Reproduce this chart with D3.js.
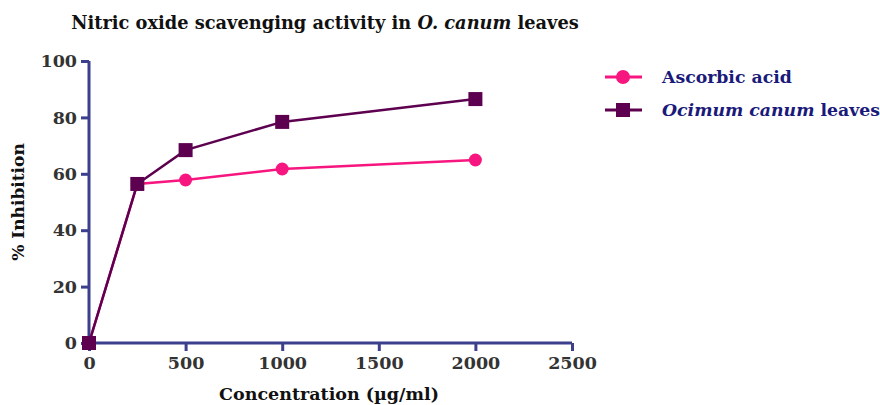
<!DOCTYPE html>
<html>
<head>
<meta charset="utf-8">
<script src="https://cdn.jsdelivr.net/npm/d3@7"></script>
<style>
  body { margin: 0; background: #fff; }
  text { font-family: "DejaVu Serif", serif; font-weight: bold; }
</style>
</head>
<body>
<svg id="chart" width="880" height="405"></svg>
<script>
const concentrations = [0, 250, 500, 1000, 2000];
const ascorbic = [0, 56.4, 57.8, 61.7, 64.9];
const ocimum = [0, 56.4, 68.4, 78.4, 86.5];
const xTicks = [0, 500, 1000, 1500, 2000, 2500];
const yTicks = [0, 20, 40, 60, 80, 100];

const axisColor = "#3b3f8c";
const pink = "#f7167f";
const purple = "#5e0050";

const svg = d3.select("#chart");
const margin = { top: 61, left: 89 };
const width = 483, height = 282;
const g = svg.append("g").attr("transform", `translate(${margin.left},${margin.top})`);

const x = d3.scaleLinear().domain([0, 2500]).range([0, width]);
const y = d3.scaleLinear().domain([0, 100]).range([height, 0]);

const xAxis = g.append("g")
  .attr("transform", `translate(0,${height})`)
  .call(d3.axisBottom(x).tickValues(xTicks).tickSize(8).tickPadding(6).tickFormat(d3.format("d")));
const yAxis = g.append("g")
  .call(d3.axisLeft(y).tickValues(yTicks).tickSize(8).tickPadding(4));

[xAxis, yAxis].forEach(a => {
  a.select(".domain").attr("stroke", axisColor).attr("stroke-width", 3);
  a.selectAll(".tick line").attr("stroke", axisColor).attr("stroke-width", 3);
  a.selectAll(".tick text").attr("fill", "#333").style("font-size", "17.5px")
    .style("font-family", "DejaVu Serif").style("font-weight", "bold");
});
xAxis.select(".domain").attr("d", `M0,0H${width}`);
yAxis.select(".domain").attr("d", `M0,${height}V0`);

const line = d3.line().x(d => x(d[0])).y(d => y(d[1]));

const series = [
  { name: "Ascorbic acid", values: ascorbic, color: pink, shape: "circle" },
  { name: "Ocimum canum leaves", values: ocimum, color: purple, shape: "square" }
];

series.forEach(s => {
  const pts = concentrations.map((c, i) => [c, s.values[i]]);
  g.append("path").datum(pts).attr("d", line)
    .attr("fill", "none").attr("stroke", s.color).attr("stroke-width", 2.5);
  if (s.shape === "circle") {
    g.selectAll(null).data(pts).join("circle")
      .attr("cx", d => x(d[0])).attr("cy", d => y(d[1])).attr("r", 6.5)
      .attr("fill", s.color);
  } else {
    g.selectAll(null).data(pts).join("rect")
      .attr("x", d => x(d[0]) - 7).attr("y", d => y(d[1]) - 7)
      .attr("width", 14).attr("height", 14).attr("fill", s.color);
  }
});

// Title
const title = svg.append("text").attr("x", 325).attr("y", 29)
  .attr("text-anchor", "middle").attr("fill", "#111").style("font-size", "17.8px");
title.append("tspan").text("Nitric oxide scavenging activity in ");
title.append("tspan").attr("font-style", "italic").text("O. canum");
title.append("tspan").text(" leaves");

// Axis titles
svg.append("text").attr("x", 329).attr("y", 400).attr("text-anchor", "middle")
  .attr("fill", "#111").style("font-size", "17.5px").text("Concentration (µg/ml)");
svg.append("text").attr("transform", "translate(24,202) rotate(-90)").attr("text-anchor", "middle")
  .attr("fill", "#111").style("font-size", "17px").text("% Inhibition");

// Legend
const legend = svg.append("g").attr("transform", "translate(605,77)");
series.forEach((s, i) => {
  const lg = legend.append("g").attr("transform", `translate(0,${i * 33})`);
  lg.append("line").attr("x1", 0).attr("x2", 37).attr("stroke", s.color).attr("stroke-width", 3);
  if (s.shape === "circle") {
    lg.append("circle").attr("cx", 18).attr("r", 7).attr("fill", s.color);
  } else {
    lg.append("rect").attr("x", 11).attr("y", -7).attr("width", 14).attr("height", 14).attr("fill", s.color);
  }
  const t = lg.append("text").attr("x", 57).attr("y", 6).attr("fill", "#1a1a7a").style("font-size", "17.3px");
  if (i === 0) {
    t.text(s.name);
  } else {
    t.append("tspan").attr("font-style", "italic").text("Ocimum canum");
    t.append("tspan").text(" leaves");
  }
});
</script>
</body>
</html>
